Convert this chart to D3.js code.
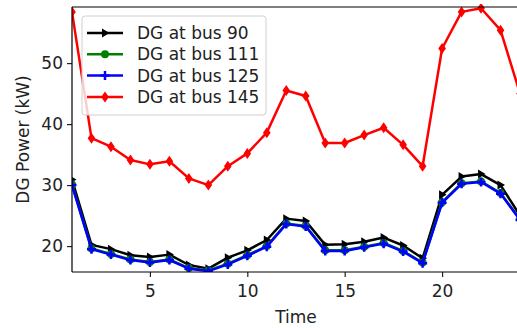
<!DOCTYPE html>
<html>
<head>
<meta charset="utf-8">
<script src="https://cdn.jsdelivr.net/npm/d3@7"></script>
<style>
  body { margin: 0; background: #fff; }
  svg { font-family: "DejaVu Sans", sans-serif; }
</style>
</head>
<body>
<div id="chart"></div>
<script>
// hours 1..24
var hours = d3.range(1, 25);

var bus90  = [30.9, 20.2, 19.5, 18.5, 18.2, 18.6, 16.9, 16.3, 18.1, 19.3, 21.0, 24.5,
              24.1, 20.2, 20.3, 20.7, 21.4, 20.1, 18.0, 28.4, 31.4, 31.8, 30.0, 25.0];
var bus111 = [30.1, 19.6, 18.7, 17.8, 17.4, 17.8, 16.4, 16.0, 17.1, 18.5, 20.0, 23.7,
              23.3, 19.3, 19.3, 19.9, 20.5, 19.2, 17.3, 27.2, 30.3, 30.6, 28.7, 24.4];
var bus125 = [30.0, 19.5, 18.6, 17.7, 17.3, 17.7, 16.3, 15.9, 17.0, 18.4, 19.9, 23.6,
              23.2, 19.2, 19.2, 19.8, 20.4, 19.1, 17.2, 27.1, 30.2, 30.5, 28.6, 24.3];
var bus145 = [58.4, 37.7, 36.3, 34.1, 33.4, 33.9, 31.1, 30.0, 33.1, 35.2, 38.6, 45.5,
              44.6, 36.9, 36.9, 38.2, 39.4, 36.6, 33.1, 52.4, 58.4, 59.0, 55.4, 45.0];

var seriesNames = ["DG at bus 90", "DG at bus 111", "DG at bus 125", "DG at bus 145"];
var seriesColors = ["#000000", "#008000", "#0000ff", "#ff0000"];
var seriesMarkers = ["tri", "circle", "plus", "diamond"];
var seriesData = [bus90, bus111, bus125, bus145];

var xTicks = [5, 10, 15, 20];
var yTicks = [20, 30, 40, 50];

var width = 517, height = 328;
var mLeft = 72, mRight = 520, mTop = 7, mBottom = 272;
var fontSize = 17;

var svg = d3.select("#chart").append("svg")
  .attr("width", width)
  .attr("height", height);

var x = d3.scaleLinear().domain([1, 24]).range([mLeft, mRight]);
var y = d3.scaleLinear().domain([15.75, 59.2]).range([mBottom, mTop]);

svg.append("defs").append("clipPath").attr("id", "plotClip")
  .append("rect").attr("x", mLeft).attr("y", mTop - 3)
  .attr("width", mRight - mLeft).attr("height", mBottom - mTop + 3);

// draw a marker at (cx, cy)
function drawMarker(g, kind, cx, cy, color) {
  if (kind == "tri") {
    g.append("path")
      .attr("d", "M" + (cx + 4.5) + "," + cy + "L" + (cx - 3) + "," + (cy - 4.5) + "L" + (cx - 3) + "," + (cy + 4.5) + "Z")
      .attr("fill", color);
  } else if (kind == "circle") {
    g.append("circle").attr("cx", cx).attr("cy", cy).attr("r", 4).attr("fill", color);
  } else if (kind == "plus") {
    g.append("path")
      .attr("d", "M" + (cx - 4.5) + "," + cy + "H" + (cx + 4.5) + "M" + cx + "," + (cy - 4.5) + "V" + (cy + 4.5))
      .attr("stroke", color).attr("stroke-width", 2.5);
  } else {
    g.append("path")
      .attr("d", "M" + cx + "," + (cy - 5.5) + "L" + (cx + 3.8) + "," + cy + "L" + cx + "," + (cy + 5.5) + "L" + (cx - 3.8) + "," + cy + "Z")
      .attr("fill", color);
  }
}

var plot = svg.append("g").attr("clip-path", "url(#plotClip)");
var line = d3.line().x(function(d, i) { return x(hours[i]); }).y(function(d) { return y(d); });

for (let s = 0; s < seriesData.length; s++) {
  var g = plot.append("g");
  g.append("path")
    .attr("d", line(seriesData[s]))
    .attr("fill", "none")
    .attr("stroke", seriesColors[s])
    .attr("stroke-width", 2.5)
    .attr("stroke-linejoin", "round");
  for (let i = 0; i < hours.length; i++) {
    drawMarker(g, seriesMarkers[s], x(hours[i]), y(seriesData[s][i]), seriesColors[s]);
  }
}

// axes
var xAxis = svg.append("g").attr("transform", "translate(0," + mBottom + ")")
  .call(d3.axisBottom(x).tickValues(xTicks).tickSize(5).tickPadding(8));
var yAxis = svg.append("g").attr("transform", "translate(" + mLeft + ",0)")
  .call(d3.axisLeft(y).tickValues(yTicks).tickSize(5).tickPadding(4));

[xAxis, yAxis].forEach(function(a) {
  a.select(".domain").remove();
  a.selectAll("text").attr("font-size", fontSize).attr("fill", "#222").attr("font-family", "DejaVu Sans");
  a.selectAll("line").attr("stroke", "#222").attr("stroke-width", 1.2);
});

// spines
svg.append("line").attr("x1", mLeft).attr("x2", mLeft).attr("y1", mTop).attr("y2", mBottom)
  .attr("stroke", "#000").attr("stroke-width", 1.2);
svg.append("line").attr("x1", mLeft).attr("x2", mRight).attr("y1", mBottom).attr("y2", mBottom)
  .attr("stroke", "#000").attr("stroke-width", 1.2);
svg.append("line").attr("x1", mLeft).attr("x2", mRight).attr("y1", mTop).attr("y2", mTop)
  .attr("stroke", "#000").attr("stroke-width", 1.2);

// labels
svg.append("text").attr("x", (mLeft + mRight) / 2).attr("y", 323)
  .attr("text-anchor", "middle").attr("font-size", fontSize).attr("fill", "#222").text("Time");
svg.append("text").attr("transform", "translate(29," + ((mTop + mBottom) / 2) + ") rotate(-90)")
  .attr("text-anchor", "middle").attr("font-size", fontSize).attr("fill", "#222").text("DG Power (kW)");

// legend
var legend = svg.append("g");
legend.append("rect").attr("x", 82).attr("y", 16).attr("width", 184).attr("height", 99)
  .attr("rx", 3).attr("fill", "#fff").attr("fill-opacity", 0.8)
  .attr("stroke", "#d0d0d0").attr("stroke-width", 1);
for (let s = 0; s < seriesNames.length; s++) {
  var ly = 33 + s * 21.3;
  var lg = legend.append("g");
  lg.append("line").attr("x1", 87).attr("x2", 123).attr("y1", ly).attr("y2", ly)
    .attr("stroke", seriesColors[s]).attr("stroke-width", 2.5);
  drawMarker(lg, seriesMarkers[s], 105, ly, seriesColors[s]);
  lg.append("text").attr("x", 137).attr("y", ly + 6)
    .attr("font-size", fontSize).attr("fill", "#222").text(seriesNames[s]);
}
</script>
</body>
</html>
